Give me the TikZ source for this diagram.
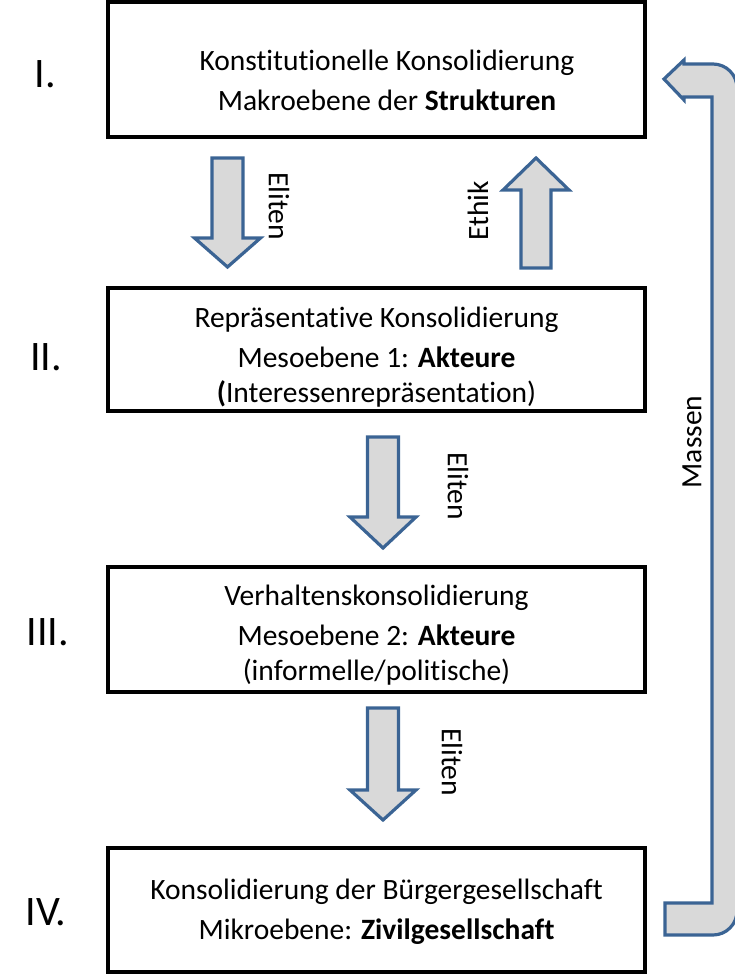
\documentclass[tikz,border=0pt]{standalone}
\usepackage{fontspec}
\setmainfont{Carlito}[Ligatures=NoCommon]
\definecolor{arrowblue}{HTML}{3B6494}
\definecolor{arrowgray}{HTML}{D9D9D9}
\tikzset{
  stage/.style={draw, line width=3.5pt, minimum width=537pt, inner sep=0pt},
  stagetext/.style={align=center, font=\fontsize{29.5}{35}\selectfont},
  level/.style={font=\fontsize{42}{50}\selectfont},
  flowlabel/.style={font=\fontsize{29.5}{35}\selectfont, inner sep=0pt},
  blockarrow/.style={draw=arrowblue, fill=arrowgray, line width=3.2pt, line join=miter},
}
\begin{document}
\begin{tikzpicture}[x=1pt,y=-1pt]
\useasboundingbox (0,0) rectangle (735,975);
% Stufen
\node[stage, minimum height=135pt] (s1) at (376.5,69.5){};
\node[stage, minimum height=123pt] (s2) at (376.5,349.5){};
\node[stage, minimum height=125pt] (s3) at (376.5,629.5){};
\node[stage, minimum height=124pt] (s4) at (376.5,910){};
\node[stagetext] (t1) at (387,80){Konstitutionelle Konsolidierung\\[5pt]Makroebene der \textbf{Strukturen}};
\node[stagetext] (t2) at (376.5,357){Repräsentative Konsolidierung\\[5pt]Mesoebene 1: \textbf{Akteure}\\\textbf{(}Interessenrepräsentation)};
\node[stagetext] (t3) at (376.5,635){Verhaltenskonsolidierung\\[5pt]Mesoebene 2: \textbf{Akteure}\\(informelle/politische)};
\node[stagetext] (t4) at (376.5,912){Konsolidierung der Bürgergesellschaft\\[5pt]Mikroebene: \textbf{Zivilgesellschaft}};
% Ebenen
\node[level] (n1) at (45.5,74.5){I.};
\node[level] (n2) at (46,357){II.};
\node[level] (n3) at (48,632){III.};
\node[level] (n4) at (46,912){IV.};
% Pfeile nach unten
\foreach \ax/\atop/\abase/\atip in {227.5/158/238/267, 383/437/517/548, 383/708/790/820}
  \draw[blockarrow] (\ax-15.5,\atop) -- (\ax+15.5,\atop) -- (\ax+15.5,\abase) -- (\ax+33,\abase)
    -- (\ax,\atip) -- (\ax-33,\abase) -- (\ax-15.5,\abase) -- cycle;
% Pfeil nach oben
\draw[blockarrow] (521,268) -- (551,268) -- (551,190) -- (569,190) -- (536,158) -- (503,190)
  -- (521,190) -- cycle;
% Massen
\draw[blockarrow] (664,79) -- (684,60) -- (684,64) -- (690,64) [rounded corners=24pt] -- (737,64)
  -- (737,935) -- (690,935) [sharp corners] -- (665,935) -- (665,903) -- (712,903) -- (712,97)
  -- (684,97) -- (684,100) -- cycle;
\node[flowlabel, rotate=-90] (e1) at (279,206){Eliten};
\node[flowlabel, rotate=90] (e2) at (478,211){Ethik};
\node[flowlabel, rotate=-90] (e3) at (458,486){Eliten};
\node[flowlabel, rotate=-90] (e4) at (452,762){Eliten};
\node[flowlabel, rotate=90] (m) at (692,442){Massen};
\end{tikzpicture}
\end{document}
